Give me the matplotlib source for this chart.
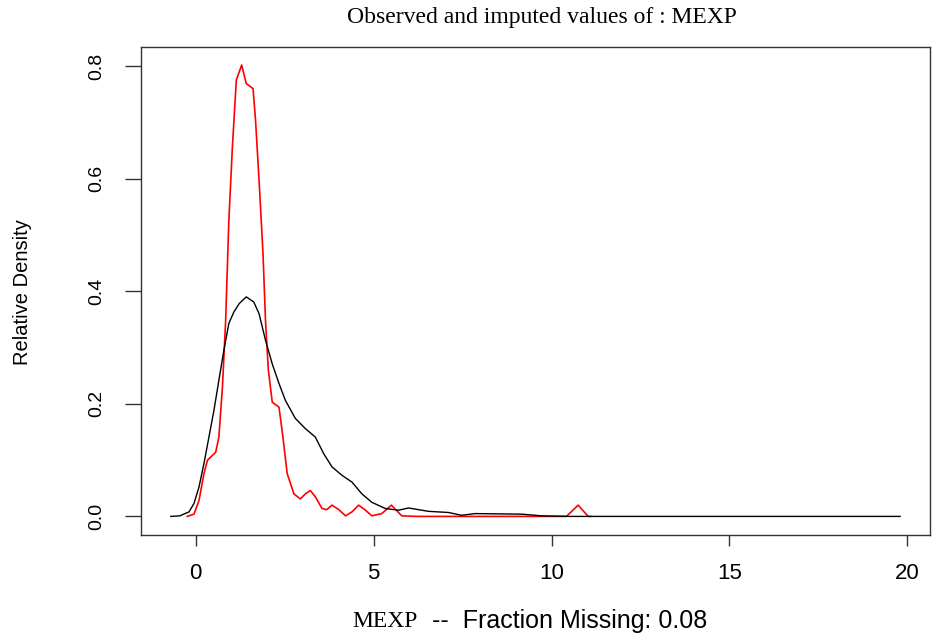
import numpy as np
import matplotlib
matplotlib.use("Agg")
import matplotlib.pyplot as plt

# observed density (black)
obs_x = [-0.70, -0.45, -0.19, -0.05, 0.09, 0.23, 0.37, 0.51, 0.65, 0.79, 0.93,
         1.07, 1.22, 1.42, 1.63, 1.78, 1.96, 2.15, 2.34, 2.52, 2.80, 3.08, 3.36,
         3.60, 3.83, 4.11, 4.39, 4.67, 4.95, 5.33, 5.70, 5.98, 6.54, 7.10, 7.47,
         7.85, 9.16, 9.72, 10.5, 19.8]
obs_y = [0.000, 0.001, 0.008, 0.023, 0.052, 0.094, 0.141, 0.188, 0.242, 0.295, 0.343,
         0.363, 0.378, 0.390, 0.381, 0.360, 0.313, 0.271, 0.236, 0.206, 0.174, 0.156, 0.141,
         0.111, 0.088, 0.073, 0.061, 0.040, 0.025, 0.014, 0.011, 0.015, 0.009, 0.007, 0.002,
         0.005, 0.004, 0.001, 0.000, 0.000]

# imputed density (red)
imp_x = [-0.24, -0.05, 0.09, 0.23, 0.33, 0.56, 0.65, 0.75, 0.84, 0.93, 1.03,
         1.14, 1.29, 1.42, 1.61, 1.68, 1.79, 1.89, 1.96, 2.04, 2.15, 2.34, 2.45,
         2.57, 2.76, 2.94, 3.08, 3.22, 3.36, 3.55, 3.68, 3.83, 4.02, 4.21, 4.39,
         4.58, 4.77, 4.95, 5.23, 5.50, 5.79, 6.2, 10.42, 10.75, 11.03, 11.1]
imp_y = [0.000, 0.004, 0.028, 0.076, 0.100, 0.114, 0.141, 0.230, 0.348, 0.526, 0.657,
         0.775, 0.802, 0.769, 0.760, 0.704, 0.585, 0.467, 0.348, 0.260, 0.203, 0.194, 0.141,
         0.076, 0.040, 0.031, 0.040, 0.046, 0.035, 0.014, 0.012, 0.020, 0.012, 0.001, 0.008,
         0.020, 0.011, 0.001, 0.005, 0.020, 0.001, 0.000, 0.000, 0.020, 0.000, 0.000]

x_ticks = [0, 5, 10, 15, 20]
y_ticks = [0.0, 0.2, 0.4, 0.6, 0.8]

fig = plt.figure(figsize=(9.38, 6.41), dpi=100)
ax = fig.add_axes([0.1503, 0.1654, 0.8412, 0.7613])

ax.plot(imp_x, imp_y, color="red", lw=1.2)
ax.plot(obs_x, obs_y, color="black", lw=1.0)

ax.set_xlim(-1.54, 20.64)
ax.set_ylim(-0.033, 0.834)

ax.set_xticks(x_ticks)
ax.set_xticklabels([str(t) for t in x_ticks], family="Liberation Sans", fontsize=16)
ax.set_yticks(y_ticks)
ax.set_yticklabels([f"{t:.1f}" for t in y_ticks], family="Liberation Sans",
                   fontsize=14, rotation=90, va="center")
ax.tick_params(axis="x", length=8, width=1, pad=12, color="#333333")
ax.tick_params(axis="y", length=11.5, width=1, pad=14, color="#333333")
for s in ax.spines.values():
    s.set_color("#333333")
    s.set_linewidth(1.0)

fig.text(0.578, 0.972, "Observed and imputed values of : MEXP", family="Liberation Serif",
         fontsize=17, ha="center", va="center")
fig.text(0.0245, 0.545, "Relative Density", family="Liberation Sans", fontsize=14.5,
         rotation=90, ha="center", va="center")
fig.text(0.4456, 0.031, "MEXP", family="Liberation Serif", fontsize=17,
         ha="right", va="center")
fig.text(0.461, 0.031, "--  Fraction Missing: 0.08", family="Liberation Sans", fontsize=18,
         ha="left", va="center")

fig.savefig("out.png", dpi=100)
